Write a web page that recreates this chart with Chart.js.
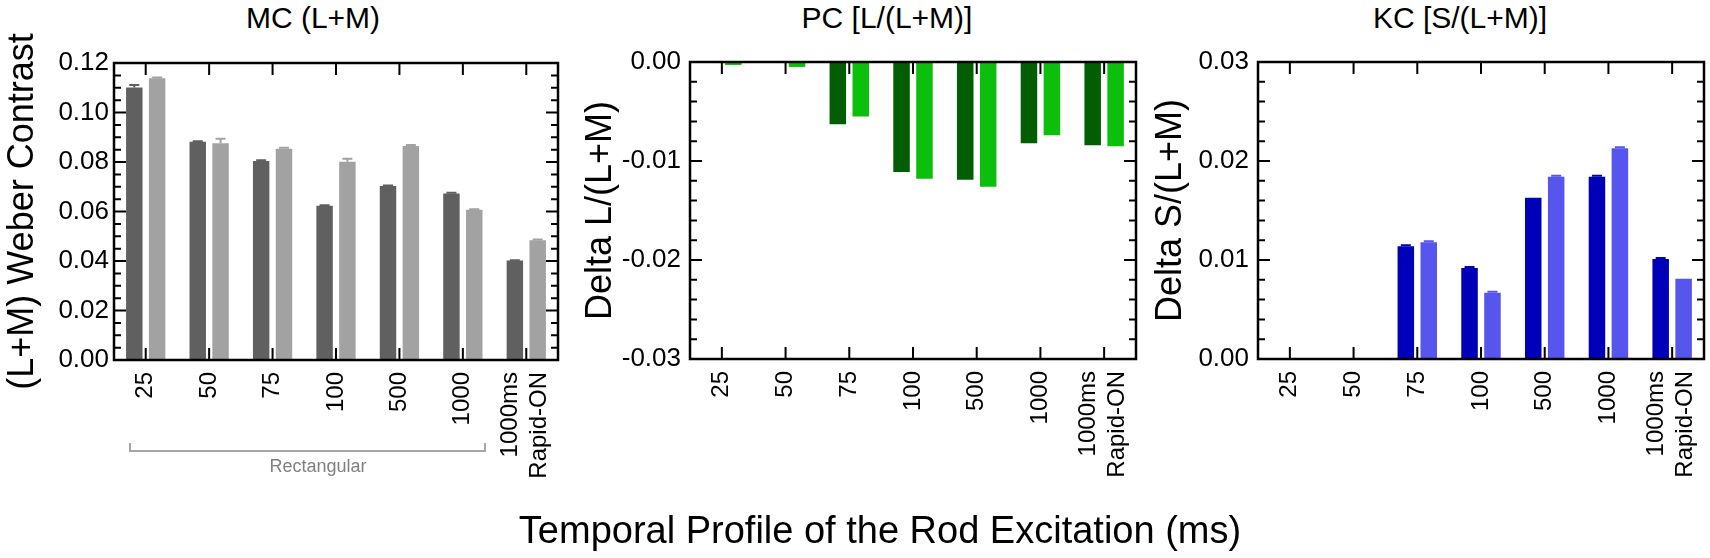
<!DOCTYPE html>
<html lang="en">
<head>
<meta charset="UTF-8">
<title>Temporal Profile of the Rod Excitation</title>
<script src="https://cdn.jsdelivr.net/npm/chart.js"></script>
<style>
    body {
        margin: 0;
        width: 1710px;
        height: 558px;
        background: #fff;
        position: relative;
        overflow: hidden;
        font-family: "Liberation Sans", Arial, sans-serif;
    }
    canvas { position: absolute; top: 0; }
    .panel-title {
        position: absolute;
        top: 1px;
        font-size: 30px;
        line-height: 34px;
        white-space: nowrap;
        transform: translateX(-50%);
        color: #000;
    }
    #xTitle {
        position: absolute;
        left: 880px;
        top: 508px;
        font-size: 38px;
        line-height: 44px;
        white-space: nowrap;
        transform: translateX(-50%);
    }
    #bracket {
        position: absolute;
        left: 129px;
        top: 443px;
        width: 353px;
        height: 7px;
        border: 2px solid #a6a6a6;
        border-top: none;
    }
    #bracketLabel {
        position: absolute;
        left: 318px;
        top: 456px;
        font-size: 18px;
        line-height: 20px;
        color: #808080;
        transform: translateX(-50%);
    }
</style>
</head>
<body>
    <div class="panel-title" style="left:313px">MC (L+M)</div>
    <div class="panel-title" style="left:887px">PC [L/(L+M)]</div>
    <div class="panel-title" style="left:1460px">KC [S/(L+M)]</div>

    <canvas id="mcChart" width="600" height="510" style="left:0px"></canvas>
    <canvas id="pcChart" width="600" height="510" style="left:570px"></canvas>
    <canvas id="kcChart" width="570" height="510" style="left:1140px"></canvas>

    <div id="bracket"></div>
    <div id="bracketLabel">Rectangular</div>
    <div id="xTitle">Temporal Profile of the Rod Excitation (ms)</div>

<script>
    // categories (x)
    const categories = ["25", "50", "75", "100", "500", "1000", "1000ms Rapid-ON"];
    const xTickLabels = [["25"], ["50"], ["75"], ["100"], ["500"], ["1000"], ["1000ms", "Rapid-ON"]];

    // MC (L+M)
    const mcDark = [0.1101, 0.0882, 0.0804, 0.0623, 0.0703, 0.0673, 0.0402];
    const mcLight = [0.1138, 0.0876, 0.0854, 0.0801, 0.0865, 0.0607, 0.0484];
    const mcDarkErr = [0.0010, 0.0002, 0.0003, 0.0002, 0.0002, 0.0003, 0.0001];
    const mcLightErr = [0.0003, 0.0018, 0.0004, 0.0012, 0.0004, 0.0002, 0.0003];

    // PC [L/(L+M)]
    const pcDark = [-0.00005, -0.00005, -0.0063, -0.0111, -0.0119, -0.0082, -0.0084];
    const pcLight = [-0.0003, -0.0005, -0.0055, -0.0118, -0.0126, -0.0074, -0.0085];

    // KC [S/(L+M)]
    const kcDark = [0, 0, 0.0114, 0.0092, 0.0163, 0.0184, 0.0101];
    const kcLight = [0, 0, 0.0118, 0.0067, 0.0184, 0.0213, 0.0081];
    const kcDarkErr = [0, 0, 0.0001, 0.0001, 0, 0.0001, 0.0001];
    const kcLightErr = [0, 0, 0.0001, 0.0001, 0.0001, 0.0001, 0];

    const FONT = '"Liberation Sans", Arial, sans-serif';
    Chart.defaults.font.family = FONT;
    Chart.defaults.color = "#000";

    // frame, inward ticks, rotated x labels and error bars
    const framePlugin = {
        id: "frame",
        afterDatasetsDraw(chart) {
            const ctx = chart.ctx;
            const y = chart.scales.y;
            ctx.save();
            ctx.lineWidth = 2;
            chart.data.datasets.forEach((ds, i) => {
                if (!ds.errors) return;
                const meta = chart.getDatasetMeta(i);
                ctx.strokeStyle = ds.errColor;
                meta.data.forEach((bar, j) => {
                    const err = ds.errors[j];
                    if (!err) return;
                    const v = ds.data[j];
                    const end = y.getPixelForValue(v + (v < 0 ? -err : err));
                    ctx.beginPath();
                    ctx.moveTo(bar.x, bar.y);
                    ctx.lineTo(bar.x, end);
                    ctx.moveTo(bar.x - 5, end);
                    ctx.lineTo(bar.x + 5, end);
                    ctx.stroke();
                });
            });
            ctx.restore();
        },
        afterDraw(chart) {
            const ctx = chart.ctx;
            const a = chart.chartArea;
            const x = chart.scales.x;
            const y = chart.scales.y;
            ctx.save();
            ctx.strokeStyle = "#000";
            ctx.lineWidth = 2;
            ctx.beginPath();
            y.ticks.forEach(t => {
                const py = y.getPixelForValue(t.value);
                const len = t.label !== "" ? 12 : 7;
                ctx.moveTo(a.left, py);
                ctx.lineTo(a.left + len, py);
                ctx.moveTo(a.right, py);
                ctx.lineTo(a.right - len, py);
            });
            categories.forEach((c, i) => {
                const px = x.getPixelForValue(i);
                ctx.moveTo(px, a.top);
                ctx.lineTo(px, a.top + 12);
                ctx.moveTo(px, a.bottom);
                ctx.lineTo(px, a.bottom - 12);
            });
            ctx.stroke();
            ctx.lineWidth = 2.5;
            ctx.strokeRect(a.left, a.top, a.right - a.left, a.bottom - a.top);

            ctx.fillStyle = "#000";
            ctx.font = "24px " + FONT;
            ctx.textAlign = "right";
            ctx.textBaseline = "middle";
            xTickLabels.forEach((lines, i) => {
                const px = x.getPixelForValue(i);
                lines.forEach((line, k) => {
                    const off = lines.length > 1 ? (k - 0.5) * 29 - 1 : 0;
                    ctx.save();
                    ctx.translate(px + off, a.bottom + 12);
                    ctx.rotate(-Math.PI / 2);
                    ctx.fillText(line, 0, 0);
                    ctx.restore();
                });
            });
            ctx.restore();
        }
    };

    function isMajor(v, step) {
        return Math.abs(v / step - Math.round(v / step)) < 1e-6;
    }

    function makeChart(id, darkData, lightData, darkColor, lightColor, yOpts, pad) {
        return new Chart(document.getElementById(id), {
            type: "bar",
            data: {
                labels: categories,
                datasets: [
                    {
                        data: darkData,
                        backgroundColor: darkColor,
                        errors: yOpts.darkErr,
                        errColor: darkColor
                    },
                    {
                        data: lightData,
                        backgroundColor: lightColor,
                        errors: yOpts.lightErr,
                        errColor: lightColor
                    }
                ]
            },
            options: {
                responsive: false,
                animation: false,
                layout: { padding: pad },
                datasets: {
                    bar: { categoryPercentage: 0.72, barPercentage: 0.72 }
                },
                plugins: {
                    legend: { display: false },
                    tooltip: { enabled: false }
                },
                scales: {
                    x: {
                        grid: { display: false, drawTicks: false },
                        border: { display: false },
                        ticks: { display: false },
                        afterFit: s => { s.height = 0; }
                    },
                    y: {
                        min: yOpts.min,
                        max: yOpts.max,
                        grid: { display: false, drawTicks: false },
                        border: { display: false },
                        ticks: {
                            stepSize: yOpts.step,
                            autoSkip: false,
                            padding: yOpts.labelGap,
                            font: { size: 26 },
                            callback: v => isMajor(v, yOpts.major) ? (Math.abs(v) < 1e-9 ? 0 : v).toFixed(2) : ""
                        },
                        title: {
                            display: true,
                            text: yOpts.title,
                            font: { size: 36 },
                            padding: { top: yOpts.titlePad, bottom: 0 }
                        },
                        afterFit: s => { s.width = yOpts.width; }
                    }
                }
            },
            plugins: [framePlugin]
        });
    }

    makeChart("mcChart", mcDark, mcLight, "#606060", "#a2a2a2", {
        min: 0, max: 0.12, step: 0.005, major: 0.02,
        title: "(L+M) Weber Contrast", titlePad: 1, width: 114, labelGap: 5,
        darkErr: mcDarkErr, lightErr: mcLightErr
    }, { left: 0, top: 63, right: 42, bottom: 150 });

    makeChart("pcChart", pcDark, pcLight, "#035e03", "#0cbf0c", {
        min: -0.03, max: 0, step: 0.002, major: 0.01,
        title: "Delta L/(L+M)", titlePad: 9, width: 120, labelGap: 9,
        darkErr: null, lightErr: null
    }, { left: 0, top: 62, right: 34, bottom: 151 });

    makeChart("kcChart", kcDark, kcLight, "#0000b8", "#5656ee", {
        min: 0, max: 0.03, step: 0.002, major: 0.01,
        title: "Delta S/(L+M)", titlePad: 9, width: 118, labelGap: 9,
        darkErr: kcDarkErr, lightErr: kcLightErr
    }, { left: 0, top: 62, right: 6, bottom: 151 });
</script>
</body>
</html>
